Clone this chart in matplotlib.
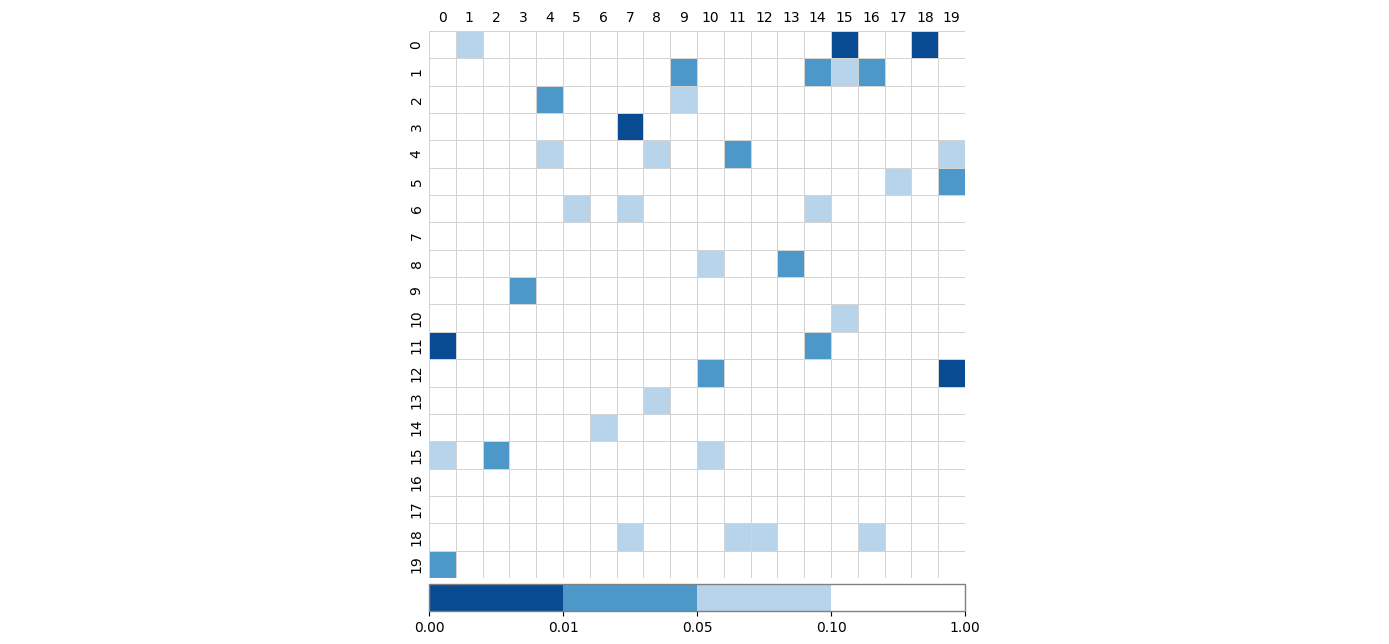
import matplotlib
matplotlib.use("Agg")
import matplotlib.pyplot as plt
import numpy as np
from matplotlib.colors import ListedColormap, BoundaryNorm
from matplotlib.colorbar import ColorbarBase

# p-value bands and their colours
bounds = [0.0, 0.01, 0.05, 0.10, 1.00]
band_colors = ["#084b93", "#4b98c9", "#b8d4ea", "#ffffff"]
labels = [str(i) for i in range(20)]

# cells (row, col) falling in each band; everything else is > 0.10
p_below_001 = [(0, 15), (0, 18), (3, 7), (11, 0), (12, 19)]
p_below_005 = [(1, 9), (1, 14), (1, 16), (2, 4), (4, 11), (5, 19), (8, 13),
               (9, 3), (11, 14), (12, 10), (15, 2), (19, 0)]
p_below_010 = [(0, 1), (1, 15), (2, 9), (4, 4), (4, 8), (4, 19), (5, 17),
               (6, 5), (6, 7), (6, 14), (8, 10), (10, 15), (13, 8), (14, 6),
               (15, 0), (15, 10), (18, 7), (18, 11), (18, 12), (18, 16)]

pvals = np.full((20, 20), 0.5)
for cells, val in [(p_below_001, 0.005), (p_below_005, 0.03), (p_below_010, 0.07)]:
    for r, c in cells:
        pvals[r, c] = val

cmap = ListedColormap(band_colors)
norm = BoundaryNorm(bounds, cmap.N)

fig = plt.figure(figsize=(13.89, 6.44), dpi=100)
ax = fig.add_axes([0.3089, 0.1025, 0.3859, 0.8494])
ax.pcolormesh(pvals, cmap=cmap, norm=norm, edgecolors="lightgray", linewidth=0.5)
ax.set_xlim(0, 20)
ax.set_ylim(20, 0)
ax.set_xticks(np.arange(20) + 0.5)
ax.set_xticklabels(labels)
ax.set_yticks(np.arange(20) + 0.5)
ax.set_yticklabels(labels, rotation=90, va="center")
ax.xaxis.tick_top()
ax.tick_params(length=0, labelsize=10, pad=4)
for s in ax.spines.values():
    s.set_visible(False)

cax = fig.add_axes([0.3089, 0.0512, 0.3859, 0.0419])
cb = ColorbarBase(cax, cmap=cmap, norm=norm, boundaries=bounds,
                  spacing="uniform", orientation="horizontal", ticks=bounds)
cb.set_ticklabels([f"{b:.2f}" for b in bounds])
cb.outline.set_edgecolor("gray")
cb.outline.set_linewidth(1)
cax.tick_params(labelsize=10)

fig.savefig("out.png", dpi=100)
